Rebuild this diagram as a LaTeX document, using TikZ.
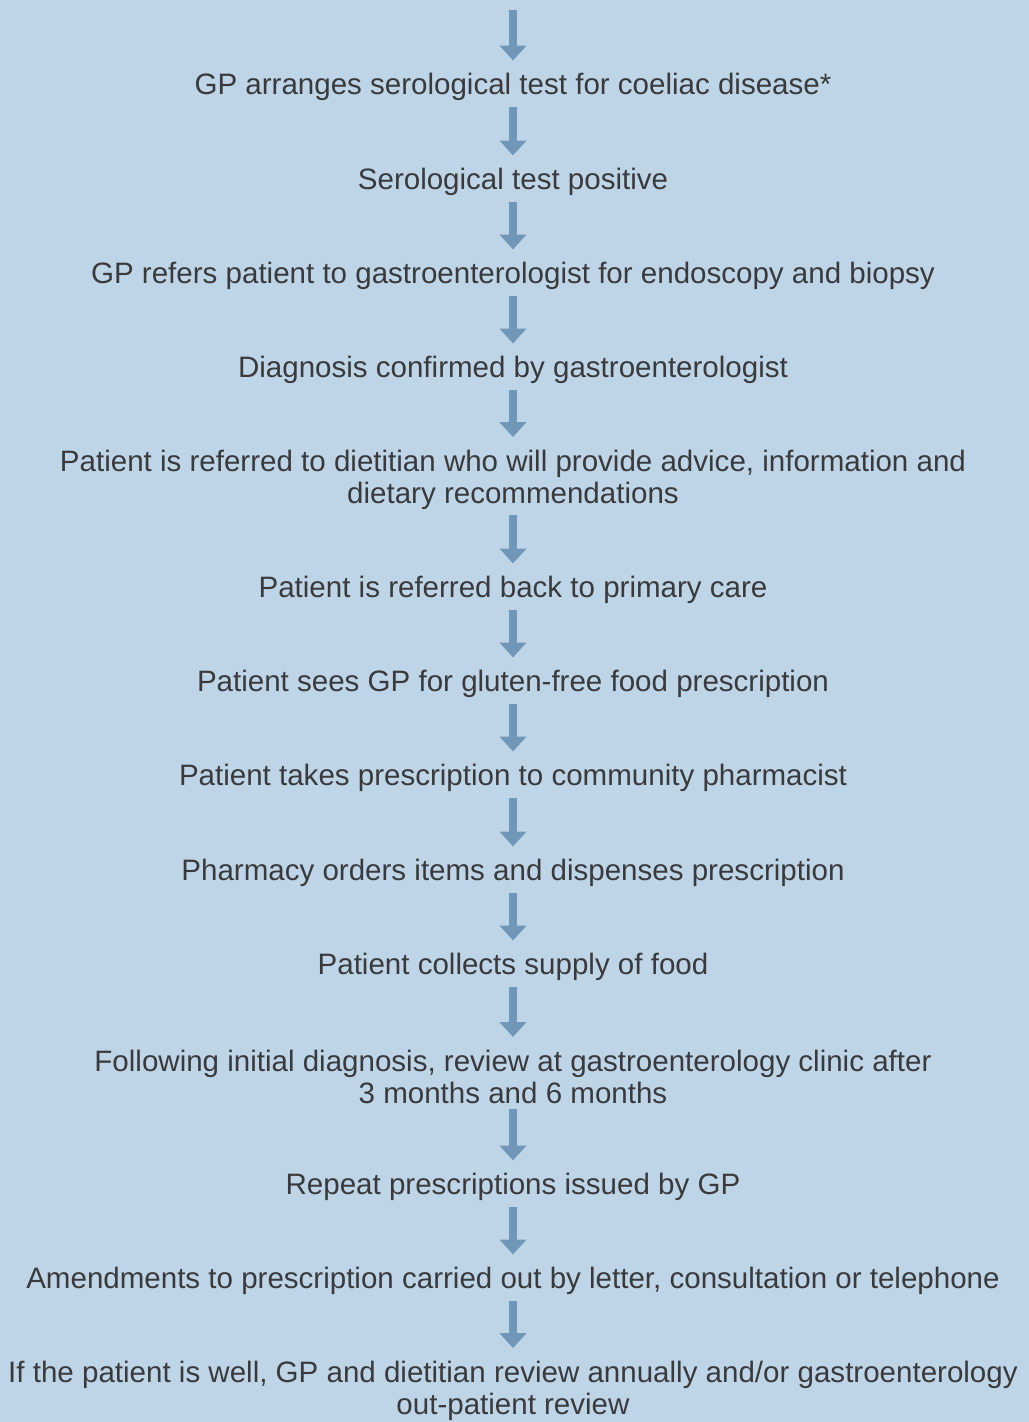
\documentclass[tikz,border=0pt]{standalone}
\usepackage{fontspec}
\setmainfont{Liberation Sans}
\usepackage{tikz}
\usetikzlibrary{arrows.meta,positioning}

\definecolor{panelblue}{RGB}{190,213,231}
\definecolor{arrowblue}{RGB}{112,151,183}
\definecolor{textgrey}{RGB}{58,58,60}

\begin{document}
\begin{tikzpicture}[x=0.025cm, y=-0.025cm, every node/.style={font=\fontsize{21}{22.7}\selectfont, text=textgrey}]
% styles
\tikzstyle{stage}=[inner sep=0pt, text height=15.1pt, text depth=5.25pt]
\tikzstyle{stagetwo}=[inner sep=0pt, align=center]
\tikzstyle{flow}=[draw=arrowblue, line width=5pt, -{Triangle[width=18.5pt,length=10.5pt]}, arrowblue, shorten >=0.325cm, shorten <=0.115cm]

% background panel
\fill[panelblue] (0,0) rectangle (1029,1422);

% pathway stages
\coordinate (top) at (513,10);
\node[stage] (s1) at (513,88) {GP arranges serological test for coeliac disease*};
\node[stage] (s2) at (513,183) {Serological test positive};
\node[stage] (s3) at (513,277) {GP refers patient to gastroenterologist for endoscopy and biopsy};
\node[stage] (s4) at (513,371) {Diagnosis confirmed by gastroenterologist};
\node[stagetwo] (s5) at (513,480) {Patient is referred to dietitian who will provide advice, information and\\dietary recommendations};
\node[stage] (s6) at (513,591) {Patient is referred back to primary care};
\node[stage] (s7) at (513,685) {Patient sees GP for gluten-free food prescription};
\node[stage] (s8) at (513,779) {Patient takes prescription to community pharmacist};
\node[stage] (s9) at (513,874) {Pharmacy orders items and dispenses prescription};
\node[stage] (s10) at (513,968) {Patient collects supply of food};
\node[stagetwo] (s11) at (513,1077) {Following initial diagnosis, review at gastroenterology clinic after\\3 months and 6 months};
\node[stage] (s12) at (513,1188) {Repeat prescriptions issued by GP};
\node[stage] (s13) at (513,1282) {Amendments to prescription carried out by letter, consultation or telephone};
\node[stagetwo] (s14) at (513,1391) {If the patient is well, GP and dietitian review annually and/or gastroenterology\\out-patient review};

% arrows between stages
\draw[flow, shorten <=0pt] (top) -- (s1);
\foreach \i/\j in {1/2,2/3,3/4,4/5,5/6,6/7,7/8,8/9,9/10,10/11,11/12,12/13,13/14}
  \draw[flow] (s\i) -- (s\j);

\end{tikzpicture}
\end{document}
